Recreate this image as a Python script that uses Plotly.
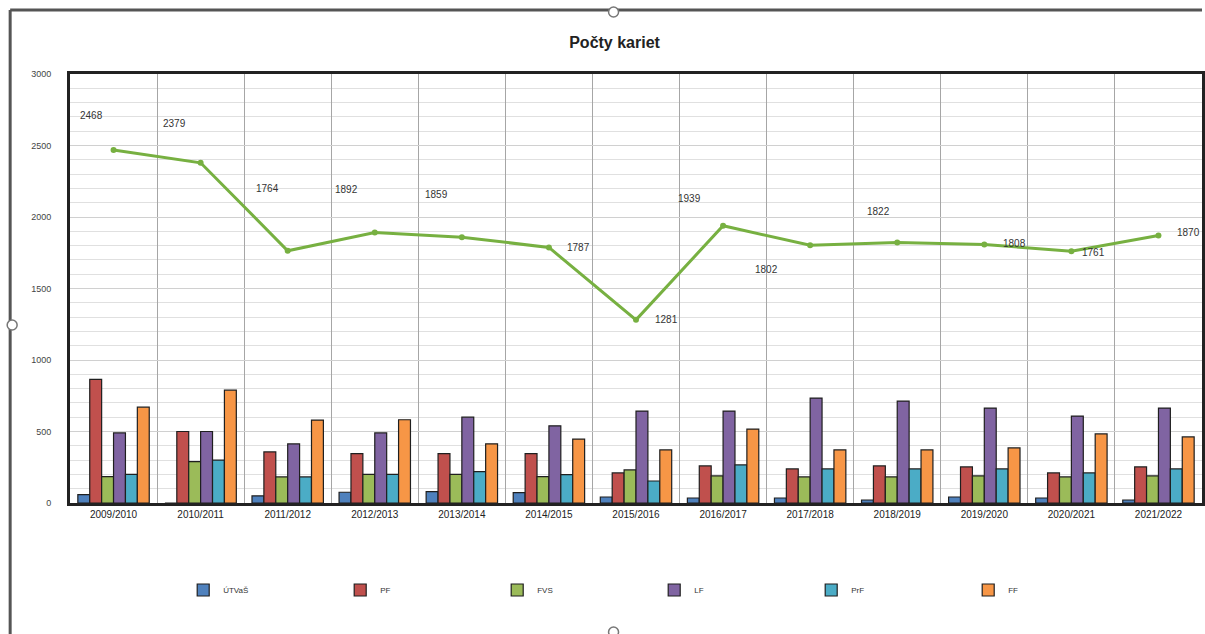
import plotly.graph_objects as go

# Academic years
years = ["2009/2010", "2010/2011", "2011/2012", "2012/2013", "2013/2014",
         "2014/2015", "2015/2016", "2016/2017", "2017/2018", "2018/2019",
         "2019/2020", "2020/2021", "2021/2022"]

# Cards per faculty
utvs = [58, 0, 50, 75, 80, 72, 42, 35, 35, 21, 42, 35, 21]
pf = [865, 500, 357, 345, 345, 345, 210, 259, 238, 259, 252, 210, 252]
fvs = [185, 290, 182, 200, 200, 185, 231, 189, 182, 182, 189, 182, 189]
lf = [490, 500, 413, 490, 600, 540, 643, 643, 734, 713, 664, 608, 664]
prf = [200, 300, 182, 200, 220, 198, 154, 266, 238, 238, 238, 210, 238]
ff = [670, 789, 580, 582, 414, 447, 371, 517, 371, 371, 385, 483, 462]

# Total line
total = [2468, 2379, 1764, 1892, 1859, 1787, 1281, 1939, 1802, 1822, 1808, 1761, 1870]

series = [
    ("ÚTVaŠ", utvs, "#4F81BD"),
    ("PF", pf, "#C0504D"),
    ("FVS", fvs, "#9BBB59"),
    ("LF", lf, "#8064A2"),
    ("PrF", prf, "#4BACC6"),
    ("FF", ff, "#F79646"),
]

# label offsets (px) for the total line labels
label_dx = [-22, -26, -20, -28, -25, 30, 30, -34, -44, -19, 30, 22, 30]
label_dy = [35, 39, 62, 43, 43, 0, 0, 27, -24, 31, 1, -1, 3]

W, H = 1205, 634
M_L, M_R, M_T, M_B = 70, 0, 74, 131
PW, PH = W - M_L - M_R, H - M_T - M_B


def px(x):
    return (x - M_L) / PW


def py(y):
    return (H - M_B - y) / PH


fig = go.Figure()

for name, vals, color in series:
    fig.add_trace(go.Bar(
        x=years,
        y=vals,
        name=name,
        marker=dict(color=color, line=dict(color="#1f1f1f", width=1.2)),
    ))

fig.add_trace(go.Scatter(
    x=years,
    y=total,
    mode="lines+markers",
    name="Spolu",
    showlegend=False,
    line=dict(color="#77B041", width=3),
    marker=dict(size=6, color="#77B041"),
))

for yr, val, dx, dy in zip(years, total, label_dx, label_dy):
    fig.add_annotation(
        x=yr, y=val, text=str(val), showarrow=False,
        xshift=dx, yshift=dy,
        font=dict(family="Liberation Sans", size=10, color="#333333"),
    )

# chart frame (Excel selection frame + handles)
fig.add_shape(type="line", xref="paper", yref="paper", x0=px(10), x1=px(1205), y0=py(10), y1=py(10),
              line=dict(color="#555555", width=3))
fig.add_shape(type="line", xref="paper", yref="paper", x0=px(10), x1=px(10), y0=py(10), y1=py(634),
              line=dict(color="#555555", width=3))
for hx, hy in [(615, 12), (12, 325), (615, 632)]:
    fig.add_shape(type="circle", xref="paper", yref="paper",
                  x0=px(hx - 5), x1=px(hx + 5), y0=py(hy - 5), y1=py(hy + 5),
                  fillcolor="white", line=dict(color="#777777", width=1.5))

fig.update_layout(
    width=W,
    height=H,
    margin=dict(l=M_L, r=M_R, t=M_T, b=M_B),
    paper_bgcolor="white",
    plot_bgcolor="white",
    title=dict(text="<b>Počty kariet</b>", x=0.51, xanchor="center",
               y=1 - 42 / H, yanchor="middle",
               font=dict(family="Liberation Sans", size=16, color="#222222")),
    barmode="group",
    bargap=0.18,
    bargroupgap=0,
    font=dict(family="Liberation Sans", size=10, color="#333333"),
    legend=dict(
        orientation="h", x=0.1, y=py(590), xanchor="left", yanchor="middle",
        entrywidth=112, entrywidthmode="pixels",
        font=dict(size=8, color="#333333"),
    ),
)

fig.update_xaxes(
    type="category",
    range=[-0.5, len(years) - 0.5],
    tickson="boundaries",
    showgrid=True,
    gridcolor="#a6a6a6",
    gridwidth=1,
    showline=True,
    linecolor="#222222",
    linewidth=3,
    mirror=True,
    ticks="",
    tickfont=dict(family="Liberation Sans", size=10, color="#222222"),
)

fig.update_yaxes(
    range=[0, 3000],
    dtick=500,
    showgrid=True,
    gridcolor="#d0d0d0",
    minor=dict(dtick=100, showgrid=True, gridcolor="#e0e0e0"),
    showline=True,
    linecolor="#222222",
    linewidth=3,
    mirror=True,
    ticks="",
    ticklabelstandoff=14,
    tickfont=dict(family="Liberation Sans", size=9, color="#444444"),
    zeroline=False,
)

fig.write_html("out.html", config={"displayModeBar": False},
               post_script="document.body.style.margin='0';")
